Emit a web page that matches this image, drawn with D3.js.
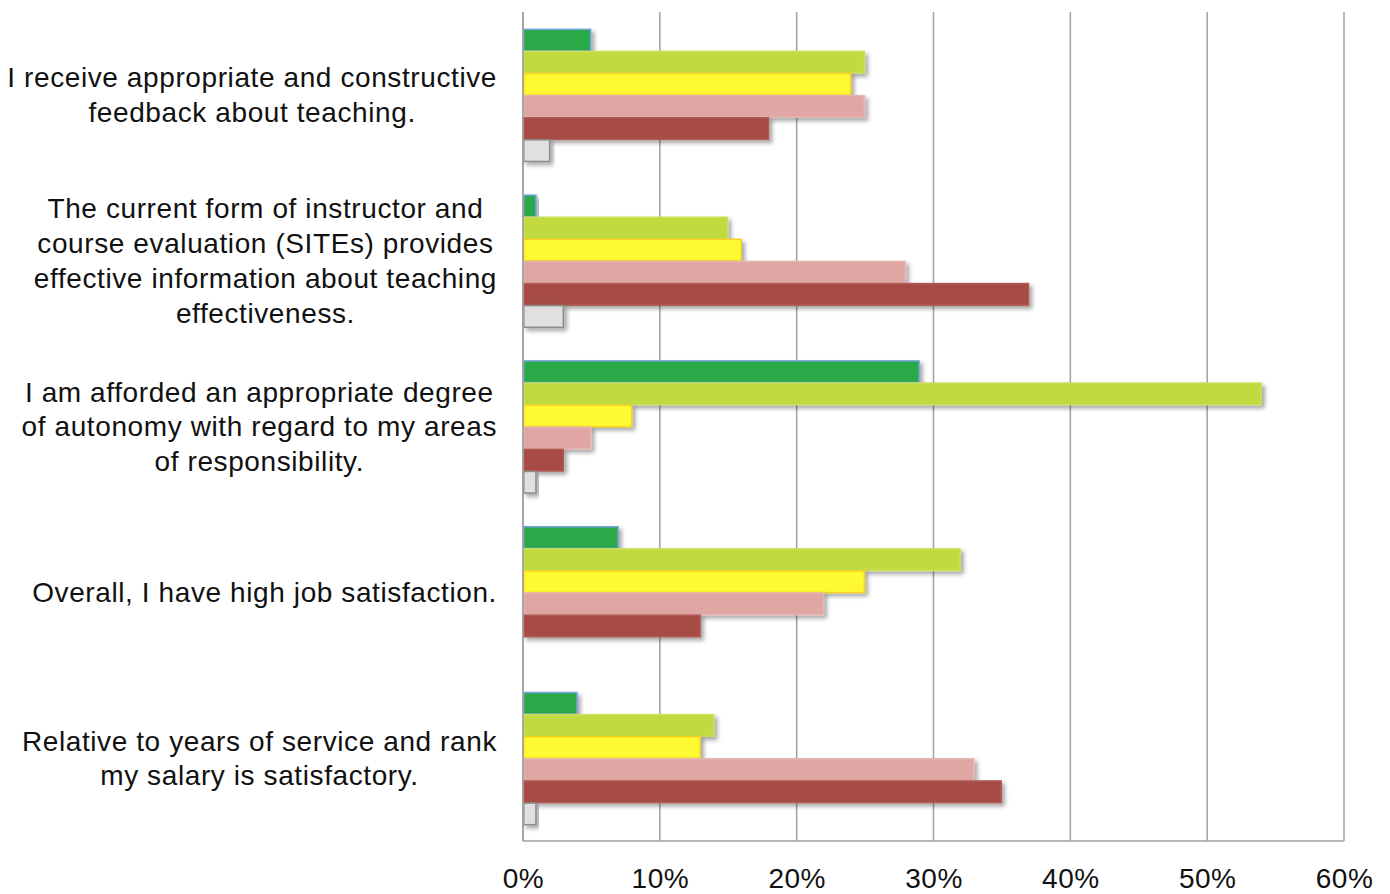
<!DOCTYPE html>
<html>
<head>
<meta charset="utf-8">
<script src="https://cdn.jsdelivr.net/npm/d3@7"></script>
<style>
  html, body { margin: 0; padding: 0; background: #fff; }
  svg { display: block; font-family: "Liberation Sans", Arial, Helvetica, sans-serif; }
</style>
</head>
<body>
<svg id="chart" width="1390" height="894"></svg>
<script>
// Survey statements, each wrapped onto the lines shown beside the bars
const categories = [
  ["I receive appropriate and constructive", "feedback about teaching."],
  ["The current form of instructor and", "course evaluation (SITEs) provides", "effective information about teaching", "effectiveness."],
  ["I am afforded an appropriate degree", "of autonomy with regard to my areas", "of responsibility."],
  ["Overall, I have high job satisfaction."],
  ["Relative to years of service and rank", "my salary is satisfactory."]
];

// Response shares (%) per statement, one array per answer level
const strongAgree    = [5, 1, 29, 7, 4];
const agree          = [25, 15, 54, 32, 14];
const neutral        = [24, 16, 8, 25, 13];
const disagree       = [25, 28, 5, 22, 33];
const strongDisagree = [18, 37, 3, 13, 35];
const notApplicable  = [2, 3, 1, 0, 1];

const tickValues = [0, 10, 20, 30, 40, 50, 60];

const series = [
  { key: "strongAgree",    values: strongAgree,    fill: "#2ca94a", stroke: "#6fa3d8" },
  { key: "agree",          values: agree,          fill: "#c0da40", stroke: "#c9e05a" },
  { key: "neutral",        values: neutral,        fill: "#fff933", stroke: "#f7d11e" },
  { key: "disagree",       values: disagree,       fill: "#e0a6a4", stroke: "#e6b4b2" },
  { key: "strongDisagree", values: strongDisagree, fill: "#a64b44", stroke: "#b05a53" },
  { key: "notApplicable",  values: notApplicable,  fill: "#e0e0e0", stroke: "#8c8c8c" }
];

const svg = d3.select("#chart");
const margin = { left: 523, right: 46, top: 12, bottom: 53 };
const W = 1390, H = 894;
const plotW = W - margin.left - margin.right;
const plotH = H - margin.top - margin.bottom;
const labelRight = 497;

const defs = svg.append("defs");
defs.append("filter")
  .attr("id", "shadow")
  .attr("x", "-10%").attr("y", "-30%").attr("width", "130%").attr("height", "180%")
  .append("feDropShadow")
  .attr("dx", 3).attr("dy", 3).attr("stdDeviation", 2)
  .attr("flood-color", "#000").attr("flood-opacity", 0.35);

const g = svg.append("g").attr("transform", `translate(${margin.left},${margin.top})`);

const x = d3.scaleLinear().domain([0, 60]).range([0, plotW]);
const y = d3.scaleBand().domain(d3.range(categories.length)).range([0, plotH]).paddingInner(0.2).paddingOuter(0.1);
const ySub = d3.scaleBand().domain(series.map(s => s.key)).range([0, y.bandwidth()]);

// Vertical gridlines
g.append("g").selectAll("line")
  .data(tickValues)
  .join("line")
  .attr("x1", d => x(d)).attr("x2", d => x(d))
  .attr("y1", 0).attr("y2", plotH)
  .attr("stroke", "#a0a0a0").attr("stroke-width", 1.5);

// Bottom axis line
g.append("line")
  .attr("x1", 0).attr("x2", x(60))
  .attr("y1", plotH).attr("y2", plotH)
  .attr("stroke", "#a0a0a0").attr("stroke-width", 1.5);

// Bars
const groups = g.append("g").selectAll("g")
  .data(categories.map((c, i) => i))
  .join("g")
  .attr("transform", i => `translate(0,${y(i)})`);

groups.selectAll("rect")
  .data(i => series.map(s => ({ key: s.key, value: s.values[i], fill: s.fill, stroke: s.stroke })))
  .join("rect")
  .filter(d => d.value > 0)
  .attr("x", x(0) + 0.75)
  .attr("y", d => ySub(d.key) + 0.75)
  .attr("width", d => Math.max(0, x(d.value) - x(0) - 1.5))
  .attr("height", ySub.bandwidth() - 0.5)
  .attr("fill", d => d.fill)
  .attr("stroke", d => d.stroke)
  .attr("stroke-width", 1.5)
  .attr("filter", "url(#shadow)");

// Left axis line drawn over the bar starts
g.append("line")
  .attr("x1", 0).attr("x2", 0).attr("y1", 0).attr("y2", plotH)
  .attr("stroke", "#a0a0a0").attr("stroke-width", 1.5);

// X axis tick labels
const xAxis = d3.axisBottom(x).tickValues(tickValues).tickFormat(d => d + "%").tickSize(0).tickPadding(27);
const ax = g.append("g").attr("transform", `translate(0,${plotH})`).call(xAxis);
ax.select(".domain").remove();
ax.selectAll("text")
  .attr("font-family", "Liberation Sans, Arial, sans-serif")
  .attr("font-size", 28)
  .attr("letter-spacing", 0.5)
  .attr("fill", "#111");

// Category labels: each block is centred on its own widest line,
// and that widest line ends just left of the axis
const lineH = 34.7;
const labels = svg.append("g").selectAll("text")
  .data(categories)
  .join("text")
  .attr("text-anchor", "middle")
  .attr("font-size", 28)
  .attr("letter-spacing", 0.6)
  .attr("fill", "#111");

labels.selectAll("tspan")
  .data(d => d.map((line, k) => ({ line, k, n: d.length })))
  .join("tspan")
  .attr("x", 0)
  .attr("y", d => (d.k - (d.n - 1) / 2) * lineH)
  .attr("dy", "0.35em")
  .text(d => d.line);

labels.attr("transform", function (d, i) {
  const widest = d3.max(d3.select(this).selectAll("tspan").nodes(), n => n.getComputedTextLength());
  return `translate(${labelRight - widest / 2},${margin.top + y(i) + y.bandwidth() / 2})`;
});
</script>
</body>
</html>
